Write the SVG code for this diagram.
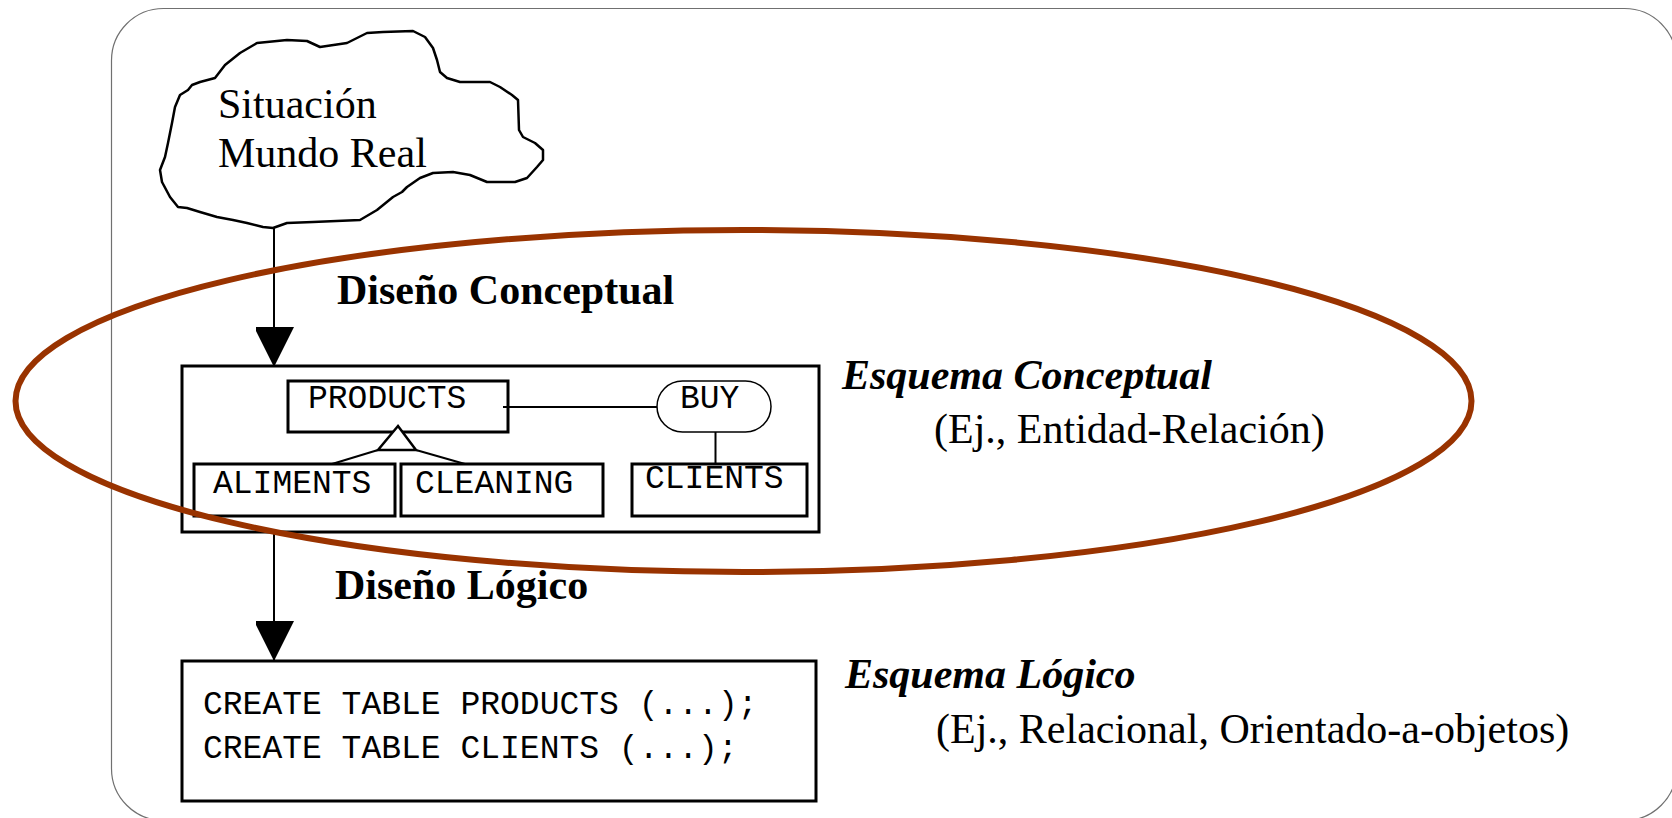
<svg xmlns="http://www.w3.org/2000/svg" width="1672" height="818" viewBox="0 0 1672 818">
<style>
.frame{fill:none;stroke:#707070;stroke-width:1.2}
.box{fill:none;stroke:#000;stroke-width:3}
.line{fill:none;stroke:#000;stroke-width:2}
.serif{font-family:"Liberation Serif","Times New Roman",serif;font-size:42px;fill:#000}
.bold{font-weight:bold}
.ital{font-style:italic}
.mono{font-family:"Liberation Mono","Courier New",monospace;font-size:33px;fill:#000}
</style>
<defs>
<marker id="arrow" markerUnits="userSpaceOnUse" markerWidth="42" markerHeight="38" refX="40" refY="20" orient="auto">
<path d="M0,0 L40,20 L0,40 Z" fill="#000"/>
</marker>
</defs>
<rect class="frame" x="111.5" y="8.5" width="1565" height="812" rx="52" ry="52"/>

<g id="connectors">
<line class="line" x1="274" y1="226" x2="274" y2="367" marker-end="url(#arrow)"/>
<line class="line" x1="274" y1="532" x2="274" y2="661" marker-end="url(#arrow)"/>
</g>

<g id="cloud">
<path d="M215,78 L225,65 L240,53 L257,43 L287,40 L307,41 L320,47 L347,43 L367,33 L383,32 L413,31 L425,37 L433,48 L437,60 L440,72 L447,78 L460,82 L490,82 L500,87 L512,95 L518,100 L519,130 L523,137 L535,143 L543,150 L543,160 L537,167 L527,178 L515,182 L487,182 L470,175 L453,172 L433,173 L420,178 L407,187 L402,192 L393,197 L377,210 L360,220 L313,222 L287,223 L273,228 L263,227 L247,223 L233,220 L217,217 L200,212 L187,208 L178,207 L170,197 L162,182 L160,170 L165,157 L168,143 L172,123 L175,107 L180,95 L188,90 L192,85 L200,82 Z" fill="#fff" stroke="#000" stroke-width="2.5" stroke-linejoin="round"/>
<text class="serif" x="218" y="118">Situación</text>
<text class="serif" x="218" y="167">Mundo Real</text>
</g>

<g id="label-diseno-conceptual">
<text class="serif bold" x="337" y="304">Diseño Conceptual</text>
</g>

<g id="conceptual-schema">
<rect class="box" x="182" y="366" width="637" height="166"/>
<g id="products">
<rect class="box" x="288" y="381" width="220" height="51"/>
<text class="mono" x="308" y="408">PRODUCTS</text>
</g>
<g id="buy">
<rect x="657" y="381" width="114" height="51" rx="25.5" ry="25.5" fill="#fff" stroke="#000" stroke-width="1.5"/>
<text class="mono" x="680" y="408">BUY</text>
</g>
<g id="aliments">
<rect class="box" x="194" y="464" width="201" height="52"/>
<text class="mono" x="213" y="493">ALIMENTS</text>
</g>
<g id="cleaning">
<rect class="box" x="401" y="464" width="202" height="52"/>
<text class="mono" x="415" y="493">CLEANING</text>
</g>
<g id="clients">
<rect class="box" x="632" y="464" width="175" height="52"/>
<text class="mono" x="645" y="488">CLIENTS</text>
</g>
<g id="er-links">
<line class="line" x1="503" y1="407" x2="657" y2="407"/>
<line class="line" x1="715.5" y1="432" x2="715.5" y2="464"/>
<path d="M398,426 L378,450 L416,450 Z" fill="#fff" stroke="#000" stroke-width="2.5" stroke-linejoin="miter"/>
<line class="line" x1="378" y1="450" x2="332" y2="464" stroke-width="2.5"/>
<line class="line" x1="416" y1="450" x2="465" y2="464" stroke-width="2.5"/>
</g>
</g>

<g id="label-esquema-conceptual">
<text class="serif bold ital" x="842" y="389">Esquema Conceptual</text>
<text class="serif" x="934" y="443">(Ej., Entidad-Relación)</text>
</g>

<ellipse id="highlight" cx="743.5" cy="401" rx="728" ry="171" fill="none" stroke="#993300" stroke-width="6"/>

<g id="label-diseno-logico">
<text class="serif bold" x="335" y="599">Diseño Lógico</text>
</g>

<g id="logical-schema">
<rect class="box" x="182" y="661" width="634" height="140"/>
<text class="mono" x="203" y="714">CREATE TABLE PRODUCTS (...);</text>
<text class="mono" x="203" y="758">CREATE TABLE CLIENTS (...);</text>
</g>

<g id="label-esquema-logico">
<text class="serif bold ital" x="845" y="688">Esquema Lógico</text>
<text class="serif" x="936" y="743">(Ej., Relacional, Orientado-a-objetos)</text>
</g>
</svg>
